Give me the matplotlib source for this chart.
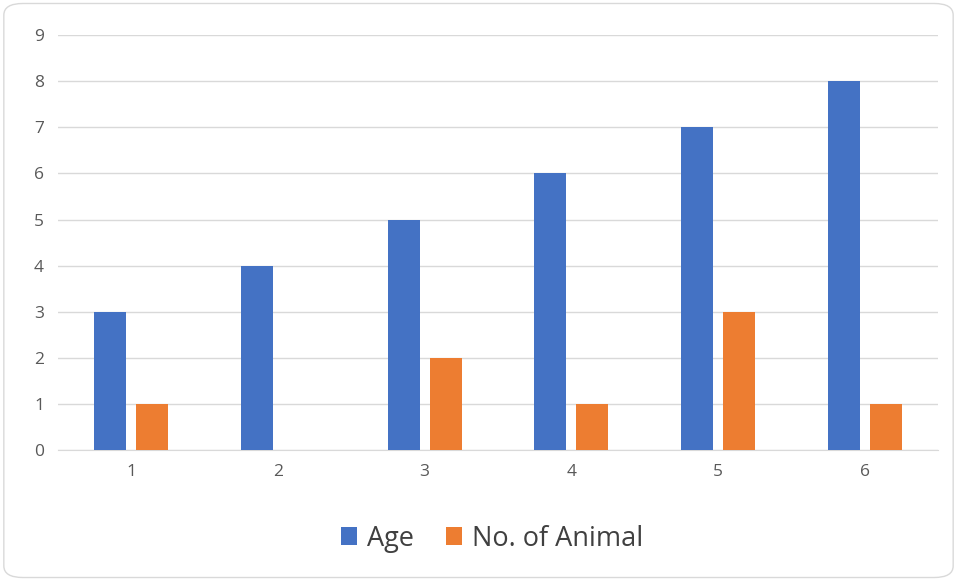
import matplotlib.pyplot as plt
import numpy as np
from matplotlib.patches import FancyBboxPatch

plt.rcParams['font.family'] = ['Open Sans', 'DejaVu Sans']

categories = [1, 2, 3, 4, 5, 6]
age = [3, 4, 5, 6, 7, 8]
animals = [1, 0, 2, 1, 3, 1]

fig = plt.figure(figsize=(9.57, 5.81), dpi=100)
ax = fig.add_axes([0.0606, 0.2255, 0.9195, 0.714])

x = np.array(categories)
w = 0.218
ax.bar(x - 0.143, age, width=w, color='#4472C4', label='Age', zorder=3)
ax.bar(x + 0.143, animals, width=w, color='#ED7D31', label='No. of Animal', zorder=3)

ax.set_xlim(0.5, 6.5)
ax.set_ylim(0, 9)
ax.set_yticks(range(0, 10))
ax.set_xticks(categories)
ax.grid(axis='y', color='#d9d9d9', linewidth=1, zorder=0)
for s in ['top', 'right', 'left']:
    ax.spines[s].set_visible(False)
ax.spines['bottom'].set_color('#d9d9d9')
ax.tick_params(length=0, labelsize=12.5, colors='#595959', pad=10)

fig.legend(loc='center', bbox_to_anchor=(0.514, 0.073), ncol=2, frameon=False,
           fontsize=19.5, handlelength=0.6, handleheight=0.6, columnspacing=1.2,
           handletextpad=0.35, labelcolor='#404040')

border = FancyBboxPatch((0.004, 0.006), 0.992, 0.988, boxstyle='round,pad=0,rounding_size=0.02',
                        transform=fig.transFigure, facecolor='none', edgecolor='#d9d9d9', linewidth=1)
fig.patches.append(border)

fig.savefig('out.png', dpi=100)
